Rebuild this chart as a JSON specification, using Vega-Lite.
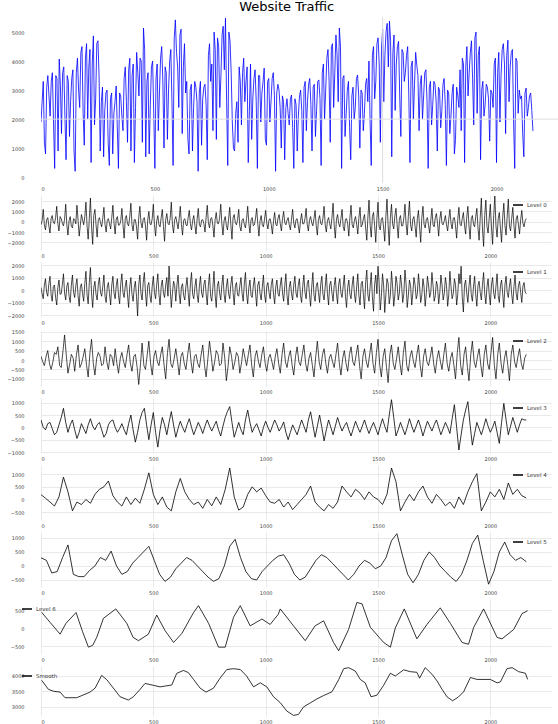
{
"$schema": "https://vega.github.io/schema/vega-lite/v6.json",
"padding": {"left": 5, "top": 0, "right": 0, "bottom": 0},
"title": {"text": "Website Traffic", "fontSize": 13, "font": "DejaVu Sans", "fontWeight": "normal", "color": "#000000", "anchor": "middle", "offset": 3, "dx": 5},
"spacing": 4,
"resolve": {"scale": {"color": "independent"}},
"config": {
  "font": "DejaVu Sans",
  "view": {"stroke": null},
  "axis": {"labelFontSize": 5, "labelColor": "#444444", "domain": false, "ticks": false, "grid": true, "gridColor": "#e3e3e3", "gridWidth": 0.8, "title": null, "labelOverlap": false},
  "axisX": {"labelPadding": 3},
  "axisY": {"labelPadding": 17, "minExtent": 36, "maxExtent": 36},
  "legend": {"orient": "top-right", "offset": 4, "symbolType": "stroke", "symbolStrokeWidth": 1.5, "symbolSize": 100, "labelFontSize": 5.5, "labelColor": "#333333", "padding": 0, "labelOffset": 3}
},
"datasets": {
"hline": [{"v": 2000}],
"vline": [{"t": 1500}],
"orig": [
{"t":0,"v":1900},{"t":10,"v":3300},{"t":20,"v":800},{"t":30,"v":3500},{"t":40,"v":2100},{"t":50,"v":3600},{"t":60,"v":300},{"t":70,"v":3400},{"t":80,"v":4070},{"t":90,"v":1500},
{"t":100,"v":3800},{"t":110,"v":600},{"t":120,"v":3300},{"t":130,"v":2600},{"t":140,"v":3700},{"t":150,"v":200},{"t":160,"v":4100},{"t":170,"v":2400},{"t":180,"v":4500},{"t":190,"v":1100},
{"t":200,"v":4600},{"t":210,"v":3800},{"t":220,"v":500},{"t":230,"v":4870},{"t":240,"v":2700},{"t":250,"v":4700},{"t":260,"v":900},{"t":270,"v":3100},{"t":280,"v":2300},{"t":290,"v":3000},
{"t":300,"v":400},{"t":310,"v":2900},{"t":320,"v":2200},{"t":330,"v":3140},{"t":340,"v":300},{"t":350,"v":2800},{"t":360,"v":1600},{"t":370,"v":3800},{"t":380,"v":1200},{"t":390,"v":4100},
{"t":400,"v":3500},{"t":410,"v":500},{"t":420,"v":4300},{"t":430,"v":2800},{"t":440,"v":4000},{"t":450,"v":5140},{"t":460,"v":700},{"t":470,"v":3600},{"t":480,"v":2500},{"t":490,"v":4000},
{"t":500,"v":300},{"t":510,"v":3900},{"t":520,"v":2900},{"t":530,"v":4500},{"t":540,"v":1000},{"t":550,"v":3600},{"t":560,"v":3000},{"t":570,"v":4400},{"t":580,"v":400},{"t":590,"v":5420},
{"t":600,"v":3800},{"t":610,"v":4900},{"t":620,"v":1500},{"t":630,"v":4600},{"t":640,"v":3300},{"t":650,"v":800},{"t":660,"v":3200},{"t":670,"v":2400},{"t":680,"v":3100},{"t":690,"v":200},
{"t":700,"v":3300},{"t":710,"v":2700},{"t":720,"v":3200},{"t":730,"v":600},{"t":740,"v":4600},{"t":750,"v":3900},{"t":760,"v":5000},{"t":770,"v":1300},{"t":780,"v":4500},{"t":790,"v":3500},
{"t":800,"v":5200},{"t":810,"v":5480},{"t":820,"v":400},{"t":830,"v":4700},{"t":840,"v":1900},{"t":850,"v":900},{"t":860,"v":2600},{"t":870,"v":3800},{"t":880,"v":1800},{"t":890,"v":4100},
{"t":900,"v":3300},{"t":910,"v":500},{"t":920,"v":3900},{"t":930,"v":2700},{"t":940,"v":3700},{"t":950,"v":300},{"t":960,"v":3500},{"t":970,"v":2900},{"t":980,"v":3760},{"t":990,"v":1100},
{"t":1000,"v":3400},{"t":1010,"v":2600},{"t":1020,"v":3600},{"t":1030,"v":200},{"t":1040,"v":3200},{"t":1050,"v":2400},{"t":1060,"v":2800},{"t":1070,"v":600},{"t":1080,"v":2700},{"t":1090,"v":1800},
{"t":1100,"v":2830},{"t":1110,"v":300},{"t":1120,"v":2500},{"t":1130,"v":2100},{"t":1140,"v":3000},{"t":1150,"v":500},{"t":1160,"v":3300},{"t":1170,"v":2600},{"t":1180,"v":3400},{"t":1190,"v":900},
{"t":1200,"v":3200},{"t":1210,"v":2300},{"t":1220,"v":3350},{"t":1230,"v":400},{"t":1240,"v":3900},{"t":1250,"v":3000},{"t":1260,"v":4400},{"t":1270,"v":1200},{"t":1280,"v":4600},{"t":1290,"v":3600},
{"t":1300,"v":4200},{"t":1310,"v":5140},{"t":1320,"v":300},{"t":1330,"v":3500},{"t":1340,"v":2200},{"t":1350,"v":3300},{"t":1360,"v":600},{"t":1370,"v":3100},{"t":1380,"v":2400},{"t":1390,"v":3520},
{"t":1400,"v":1000},{"t":1410,"v":2900},{"t":1420,"v":2200},{"t":1430,"v":3400},{"t":1440,"v":4000},{"t":1450,"v":400},{"t":1460,"v":4500},{"t":1470,"v":3300},{"t":1480,"v":4800},{"t":1490,"v":1200},
{"t":1500,"v":5100},{"t":1510,"v":4200},{"t":1520,"v":5300},{"t":1530,"v":5380},{"t":1540,"v":700},{"t":1550,"v":4900},{"t":1560,"v":3900},{"t":1570,"v":4680},{"t":1580,"v":1400},{"t":1590,"v":4300},
{"t":1600,"v":3600},{"t":1610,"v":4500},{"t":1620,"v":500},{"t":1630,"v":4000},{"t":1640,"v":3200},{"t":1650,"v":3860},{"t":1660,"v":1600},{"t":1670,"v":3500},{"t":1680,"v":2800},{"t":1690,"v":3700},
{"t":1700,"v":300},{"t":1710,"v":3300},{"t":1720,"v":2500},{"t":1730,"v":3200},{"t":1740,"v":900},{"t":1750,"v":3000},{"t":1760,"v":2300},{"t":1770,"v":3400},{"t":1780,"v":400},{"t":1790,"v":2900},
{"t":1800,"v":2100},{"t":1810,"v":3200},{"t":1820,"v":1300},{"t":1830,"v":2800},{"t":1840,"v":3700},{"t":1850,"v":4100},{"t":1860,"v":500},{"t":1870,"v":4500},{"t":1880,"v":3600},{"t":1890,"v":4700},
{"t":1900,"v":1800},{"t":1910,"v":5000},{"t":1920,"v":4200},{"t":1930,"v":600},{"t":1940,"v":3300},{"t":1950,"v":2500},{"t":1960,"v":3100},{"t":1970,"v":1240},{"t":1980,"v":2900},{"t":1990,"v":3900},
{"t":2000,"v":500},{"t":2010,"v":4300},{"t":2020,"v":3500},{"t":2030,"v":4600},{"t":2040,"v":1500},{"t":2050,"v":4720},{"t":2060,"v":3800},{"t":2070,"v":4400},{"t":2080,"v":300},{"t":2090,"v":4000},
{"t":2100,"v":3000},{"t":2110,"v":2800},{"t":2120,"v":700},{"t":2130,"v":3070},{"t":2140,"v":2400},{"t":2150,"v":2900},{"t":2160,"v":1590},
{"t":5,"v":2600},{"t":15,"v":1200},{"t":25,"v":3100},{"t":35,"v":2800},{"t":45,"v":3300},{"t":55,"v":1900},{"t":65,"v":3500},{"t":75,"v":900},{"t":85,"v":3200},{"t":95,"v":3600},
{"t":105,"v":2100},{"t":115,"v":3500},{"t":125,"v":1400},{"t":135,"v":3400},{"t":145,"v":900},{"t":155,"v":3600},{"t":165,"v":3000},{"t":175,"v":4300},{"t":185,"v":2200},{"t":195,"v":4100},
{"t":205,"v":2000},{"t":215,"v":4400},{"t":225,"v":3900},{"t":235,"v":1800},{"t":245,"v":4600},{"t":255,"v":3500},{"t":265,"v":2600},{"t":275,"v":700},{"t":285,"v":2900},{"t":295,"v":1200},
{"t":305,"v":2700},{"t":315,"v":800},{"t":325,"v":2600},{"t":335,"v":1700},{"t":345,"v":2900},{"t":355,"v":2100},{"t":365,"v":3400},{"t":375,"v":2600},{"t":385,"v":3700},{"t":395,"v":900},
{"t":405,"v":3900},{"t":415,"v":2400},{"t":425,"v":3600},{"t":435,"v":4100},{"t":445,"v":1200},{"t":455,"v":4400},{"t":465,"v":3300},{"t":475,"v":800},{"t":485,"v":3800},{"t":495,"v":2200},
{"t":505,"v":3400},{"t":515,"v":1600},{"t":525,"v":4100},{"t":535,"v":3300},{"t":545,"v":3800},{"t":555,"v":1300},{"t":565,"v":4000},{"t":575,"v":2600},{"t":585,"v":4800},{"t":595,"v":4300},
{"t":605,"v":2400},{"t":615,"v":5100},{"t":625,"v":3800},{"t":635,"v":2900},{"t":645,"v":1300},{"t":655,"v":3000},{"t":665,"v":900},{"t":675,"v":3300},{"t":685,"v":2600},{"t":695,"v":2900},
{"t":705,"v":1100},{"t":715,"v":3100},{"t":725,"v":2500},{"t":735,"v":4200},{"t":745,"v":3300},{"t":755,"v":1600},{"t":765,"v":4400},{"t":775,"v":4800},{"t":785,"v":2400},{"t":795,"v":4900},
{"t":805,"v":3700},{"t":815,"v":2600},{"t":825,"v":5000},{"t":835,"v":3600},{"t":845,"v":1000},{"t":855,"v":2200},{"t":865,"v":1200},{"t":875,"v":3300},{"t":885,"v":3600},{"t":895,"v":2600},
{"t":905,"v":3800},{"t":915,"v":2300},{"t":925,"v":1300},{"t":935,"v":3400},{"t":945,"v":2600},{"t":955,"v":3500},{"t":965,"v":1900},{"t":975,"v":3300},{"t":985,"v":1300},{"t":995,"v":3300},
{"t":1005,"v":1900},{"t":1015,"v":3400},{"t":1025,"v":2800},{"t":1035,"v":2900},{"t":1045,"v":3000},{"t":1055,"v":1000},{"t":1065,"v":2600},{"t":1075,"v":2400},{"t":1085,"v":2200},{"t":1095,"v":2700},
{"t":1105,"v":1700},{"t":1115,"v":2700},{"t":1125,"v":900},{"t":1135,"v":2800},{"t":1145,"v":2300},{"t":1155,"v":3100},{"t":1165,"v":1600},{"t":1175,"v":3200},{"t":1185,"v":2500},{"t":1195,"v":3100},
{"t":1205,"v":1400},{"t":1215,"v":3300},{"t":1225,"v":2700},{"t":1235,"v":3600},{"t":1245,"v":2000},{"t":1255,"v":4100},{"t":1265,"v":3300},{"t":1275,"v":4500},{"t":1285,"v":2400},{"t":1295,"v":4900},
{"t":1305,"v":2600},{"t":1315,"v":4500},{"t":1325,"v":3400},{"t":1335,"v":1400},{"t":1345,"v":3000},{"t":1355,"v":1700},{"t":1365,"v":2800},{"t":1375,"v":2000},{"t":1385,"v":3400},{"t":1395,"v":2800},
{"t":1405,"v":3000},{"t":1415,"v":1600},{"t":1425,"v":3200},{"t":1435,"v":2600},{"t":1445,"v":1900},{"t":1455,"v":4200},{"t":1465,"v":2700},{"t":1475,"v":4600},{"t":1485,"v":3900},{"t":1495,"v":4400},
{"t":1505,"v":2600},{"t":1515,"v":5000},{"t":1525,"v":3800},{"t":1535,"v":4700},{"t":1545,"v":4300},{"t":1555,"v":2300},{"t":1565,"v":4500},{"t":1575,"v":2800},{"t":1585,"v":4400},{"t":1595,"v":3300},
{"t":1605,"v":4200},{"t":1615,"v":2800},{"t":1625,"v":3800},{"t":1635,"v":2000},{"t":1645,"v":4300},{"t":1655,"v":3500},{"t":1665,"v":3200},{"t":1675,"v":2000},{"t":1685,"v":3600},{"t":1695,"v":2600},
{"t":1705,"v":3100},{"t":1715,"v":1800},{"t":1725,"v":3300},{"t":1735,"v":2600},{"t":1745,"v":3100},{"t":1755,"v":1700},{"t":1765,"v":3200},{"t":1775,"v":2500},{"t":1785,"v":3000},{"t":1795,"v":1500},
{"t":1805,"v":2900},{"t":1815,"v":800},{"t":1825,"v":3100},{"t":1835,"v":2400},{"t":1845,"v":1600},{"t":1855,"v":3900},{"t":1865,"v":3800},{"t":1875,"v":2800},{"t":1885,"v":4300},{"t":1895,"v":3400},
{"t":1905,"v":4800},{"t":1915,"v":2200},{"t":1925,"v":4500},{"t":1935,"v":3000},{"t":1945,"v":2100},{"t":1955,"v":3200},{"t":1965,"v":2700},{"t":1975,"v":3000},{"t":1985,"v":2400},{"t":1995,"v":4100},
{"t":2005,"v":3600},{"t":2015,"v":1900},{"t":2025,"v":4400},{"t":2035,"v":3900},{"t":2045,"v":4200},{"t":2055,"v":2600},{"t":2065,"v":4300},{"t":2075,"v":1900},{"t":2085,"v":4100},{"t":2095,"v":2200},
{"t":2105,"v":2700},{"t":2115,"v":1500},{"t":2125,"v":2900},{"t":2135,"v":2100},{"t":2145,"v":2800},{"t":2155,"v":2300}
],
"l0": [
{"t":0,"v":-300},{"t":10,"v":1200},{"t":20,"v":-800},{"t":30,"v":400},{"t":40,"v":-1100},{"t":50,"v":600},{"t":60,"v":-200},{"t":70,"v":1500},{"t":80,"v":-900},{"t":90,"v":300},
{"t":100,"v":-400},{"t":110,"v":1700},{"t":120,"v":-1300},{"t":130,"v":500},{"t":140,"v":-600},{"t":150,"v":200},{"t":160,"v":1600},{"t":170,"v":-1400},{"t":180,"v":700},{"t":190,"v":-300},
{"t":200,"v":1900},{"t":210,"v":-1700},{"t":220,"v":2300},{"t":230,"v":-2200},{"t":240,"v":1200},{"t":250,"v":-1500},{"t":260,"v":400},{"t":270,"v":-500},{"t":280,"v":1400},{"t":290,"v":-1000},
{"t":300,"v":300},{"t":310,"v":-700},{"t":320,"v":1600},{"t":330,"v":-1200},{"t":340,"v":500},{"t":350,"v":-300},{"t":360,"v":1300},{"t":370,"v":-1600},{"t":380,"v":600},{"t":390,"v":-400},
{"t":400,"v":1800},{"t":410,"v":-900},{"t":420,"v":200},{"t":430,"v":-1700},{"t":440,"v":1500},{"t":450,"v":-600},{"t":460,"v":400},{"t":470,"v":-1800},{"t":480,"v":1000},{"t":490,"v":-300},
{"t":500,"v":1700},{"t":510,"v":-1400},{"t":520,"v":600},{"t":530,"v":-500},{"t":540,"v":1200},{"t":550,"v":-1900},{"t":560,"v":800},{"t":570,"v":-300},{"t":580,"v":1900},{"t":590,"v":-1100},
{"t":600,"v":500},{"t":610,"v":-700},{"t":620,"v":1500},{"t":630,"v":-1300},{"t":640,"v":300},{"t":650,"v":-400},{"t":660,"v":1100},{"t":670,"v":-800},{"t":680,"v":600},{"t":690,"v":-1200},
{"t":700,"v":1300},{"t":710,"v":-500},{"t":720,"v":200},{"t":730,"v":-1000},{"t":740,"v":1600},{"t":750,"v":-600},{"t":760,"v":400},{"t":770,"v":-1500},{"t":780,"v":900},{"t":790,"v":-200},
{"t":800,"v":1700},{"t":810,"v":-1300},{"t":820,"v":500},{"t":830,"v":-800},{"t":840,"v":1400},{"t":850,"v":-1700},{"t":860,"v":700},{"t":870,"v":-300},{"t":880,"v":1200},{"t":890,"v":-900},
{"t":900,"v":300},{"t":910,"v":-600},{"t":920,"v":1500},{"t":930,"v":-1100},{"t":940,"v":400},{"t":950,"v":-300},{"t":960,"v":1300},{"t":970,"v":-1400},{"t":980,"v":600},{"t":990,"v":-500},
{"t":1000,"v":1100},{"t":1010,"v":-700},{"t":1020,"v":300},{"t":1030,"v":-1200},{"t":1040,"v":900},{"t":1050,"v":-400},{"t":1060,"v":700},{"t":1070,"v":-900},{"t":1080,"v":1000},{"t":1090,"v":-300},
{"t":1100,"v":400},{"t":1110,"v":-800},{"t":1120,"v":1200},{"t":1130,"v":-600},{"t":1140,"v":300},{"t":1150,"v":-1100},{"t":1160,"v":800},{"t":1170,"v":-200},{"t":1180,"v":1300},{"t":1190,"v":-900},
{"t":1200,"v":500},{"t":1210,"v":-400},{"t":1220,"v":1100},{"t":1230,"v":-1300},{"t":1240,"v":600},{"t":1250,"v":-300},{"t":1260,"v":1500},{"t":1270,"v":-1000},{"t":1280,"v":400},{"t":1290,"v":-700},
{"t":1300,"v":1800},{"t":1310,"v":-1600},{"t":1320,"v":700},{"t":1330,"v":-500},{"t":1340,"v":1200},{"t":1350,"v":-900},{"t":1360,"v":300},{"t":1370,"v":-1400},{"t":1380,"v":1600},{"t":1390,"v":-600},
{"t":1400,"v":500},{"t":1410,"v":-1200},{"t":1420,"v":1400},{"t":1430,"v":-300},{"t":1440,"v":700},{"t":1450,"v":-1800},{"t":1460,"v":2100},{"t":1470,"v":-1500},{"t":1480,"v":900},{"t":1490,"v":-2000},
{"t":1500,"v":1900},{"t":1510,"v":-800},{"t":1520,"v":400},{"t":1530,"v":-1900},{"t":1540,"v":2200},{"t":1550,"v":-2300},{"t":1560,"v":1700},{"t":1570,"v":-700},{"t":1580,"v":1300},{"t":1590,"v":-1600},
{"t":1600,"v":600},{"t":1610,"v":-400},{"t":1620,"v":1700},{"t":1630,"v":-1300},{"t":1640,"v":2000},{"t":1650,"v":-900},{"t":1660,"v":500},{"t":1670,"v":-1500},{"t":1680,"v":1100},{"t":1690,"v":-2000},
{"t":1700,"v":1500},{"t":1710,"v":-600},{"t":1720,"v":400},{"t":1730,"v":-1100},{"t":1740,"v":1300},{"t":1750,"v":-500},{"t":1760,"v":800},{"t":1770,"v":-1400},{"t":1780,"v":1000},{"t":1790,"v":-300},
{"t":1800,"v":600},{"t":1810,"v":-900},{"t":1820,"v":1200},{"t":1830,"v":-700},{"t":1840,"v":400},{"t":1850,"v":-1600},{"t":1860,"v":1400},{"t":1870,"v":-400},{"t":1880,"v":900},{"t":1890,"v":-1200},
{"t":1900,"v":1500},{"t":1910,"v":-1700},{"t":1920,"v":600},{"t":1930,"v":-500},{"t":1940,"v":1300},{"t":1950,"v":-1800},{"t":1960,"v":2300},{"t":1970,"v":-2400},{"t":1980,"v":2100},{"t":1990,"v":-1100},
{"t":2000,"v":1700},{"t":2010,"v":-2200},{"t":2020,"v":2500},{"t":2030,"v":-1500},{"t":2040,"v":900},{"t":2050,"v":-2000},{"t":2060,"v":1800},{"t":2070,"v":-1300},{"t":2080,"v":2200},{"t":2090,"v":-900},
{"t":2100,"v":1400},{"t":2110,"v":-1600},{"t":2120,"v":600},{"t":2130,"v":-1200},{"t":2140,"v":1100},{"t":2150,"v":-500},{"t":2160,"v":300},
{"t":5,"v":100},{"t":15,"v":-300},{"t":25,"v":200},{"t":35,"v":-400},{"t":45,"v":300},{"t":55,"v":-100},{"t":65,"v":400},{"t":75,"v":-200},{"t":85,"v":500},{"t":95,"v":-150},
{"t":105,"v":250},{"t":115,"v":-300},{"t":125,"v":100},{"t":135,"v":-450},{"t":145,"v":300},{"t":155,"v":-200},{"t":165,"v":150},{"t":175,"v":-350},{"t":185,"v":200},{"t":195,"v":500},
{"t":205,"v":-400},{"t":215,"v":300},{"t":225,"v":-500},{"t":235,"v":600},{"t":245,"v":-300},{"t":255,"v":200},{"t":265,"v":-100},{"t":275,"v":350},{"t":285,"v":-250},{"t":295,"v":150},
{"t":305,"v":-200},{"t":315,"v":400},{"t":325,"v":-150},{"t":335,"v":250},{"t":345,"v":-350},{"t":355,"v":100},{"t":365,"v":-300},{"t":375,"v":300},{"t":385,"v":-200},{"t":395,"v":450},
{"t":405,"v":-300},{"t":415,"v":200},{"t":425,"v":-500},{"t":435,"v":350},{"t":445,"v":-100},{"t":455,"v":250},{"t":465,"v":-400},{"t":475,"v":150},{"t":485,"v":-200},{"t":495,"v":300},
{"t":505,"v":-250},{"t":515,"v":100},{"t":525,"v":-300},{"t":535,"v":400},{"t":545,"v":-450},{"t":555,"v":200},{"t":565,"v":-150},{"t":575,"v":350},{"t":585,"v":-300},{"t":595,"v":200},
{"t":605,"v":-100},{"t":615,"v":300},{"t":625,"v":-250},{"t":635,"v":150},{"t":645,"v":-300},{"t":655,"v":400},{"t":665,"v":-200},{"t":675,"v":100},{"t":685,"v":-350},{"t":695,"v":250},
{"t":705,"v":-300},{"t":715,"v":150},{"t":725,"v":-200},{"t":735,"v":450},{"t":745,"v":-100},{"t":755,"v":300},{"t":765,"v":-400},{"t":775,"v":200},{"t":785,"v":-150},{"t":795,"v":350},
{"t":805,"v":-200},{"t":815,"v":100},{"t":825,"v":-350},{"t":835,"v":250},{"t":845,"v":-300},{"t":855,"v":400},{"t":865,"v":-100},{"t":875,"v":200},{"t":885,"v":-450},{"t":895,"v":150},
{"t":905,"v":-250},{"t":915,"v":300},{"t":925,"v":-150},{"t":935,"v":200},{"t":945,"v":-400},{"t":955,"v":350},{"t":965,"v":-200},{"t":975,"v":100},{"t":985,"v":-300},{"t":995,"v":250},
{"t":1005,"v":-150},{"t":1015,"v":200},{"t":1025,"v":-300},{"t":1035,"v":100},{"t":1045,"v":-250},{"t":1055,"v":350},{"t":1065,"v":-200},{"t":1075,"v":300},{"t":1085,"v":-100},{"t":1095,"v":150},
{"t":1105,"v":-300},{"t":1115,"v":250},{"t":1125,"v":-150},{"t":1135,"v":200},{"t":1145,"v":-350},{"t":1155,"v":100},{"t":1165,"v":-200},{"t":1175,"v":300},{"t":1185,"v":-250},{"t":1195,"v":150},
{"t":1205,"v":-100},{"t":1215,"v":300},{"t":1225,"v":-400},{"t":1235,"v":200},{"t":1245,"v":-150},{"t":1255,"v":350},{"t":1265,"v":-300},{"t":1275,"v":100},{"t":1285,"v":-200},{"t":1295,"v":400},
{"t":1305,"v":-350},{"t":1315,"v":200},{"t":1325,"v":-150},{"t":1335,"v":300},{"t":1345,"v":-450},{"t":1355,"v":250},{"t":1365,"v":-200},{"t":1375,"v":400},{"t":1385,"v":-300},{"t":1395,"v":150},
{"t":1405,"v":-250},{"t":1415,"v":400},{"t":1425,"v":-500},{"t":1435,"v":300},{"t":1445,"v":-600},{"t":1455,"v":450},{"t":1465,"v":-350},{"t":1475,"v":500},{"t":1485,"v":-400},{"t":1495,"v":300},
{"t":1505,"v":-450},{"t":1515,"v":300},{"t":1525,"v":-600},{"t":1535,"v":500},{"t":1545,"v":-350},{"t":1555,"v":400},{"t":1565,"v":-200},{"t":1575,"v":550},{"t":1585,"v":-300},{"t":1595,"v":250},
{"t":1605,"v":-400},{"t":1615,"v":350},{"t":1625,"v":-200},{"t":1635,"v":500},{"t":1645,"v":-300},{"t":1655,"v":250},{"t":1665,"v":-450},{"t":1675,"v":300},{"t":1685,"v":-500},{"t":1695,"v":400},
{"t":1705,"v":-250},{"t":1715,"v":200},{"t":1725,"v":-350},{"t":1735,"v":150},{"t":1745,"v":-300},{"t":1755,"v":400},{"t":1765,"v":-150},{"t":1775,"v":250},{"t":1785,"v":-200},{"t":1795,"v":100},
{"t":1805,"v":-300},{"t":1815,"v":250},{"t":1825,"v":-150},{"t":1835,"v":350},{"t":1845,"v":-400},{"t":1855,"v":200},{"t":1865,"v":-250},{"t":1875,"v":300},{"t":1885,"v":-350},{"t":1895,"v":450},
{"t":1905,"v":-400},{"t":1915,"v":300},{"t":1925,"v":-250},{"t":1935,"v":500},{"t":1945,"v":-600},{"t":1955,"v":400},{"t":1965,"v":-700},{"t":1975,"v":600},{"t":1985,"v":-450},{"t":1995,"v":350},
{"t":2005,"v":-500},{"t":2015,"v":600},{"t":2025,"v":-400},{"t":2035,"v":300},{"t":2045,"v":-650},{"t":2055,"v":450},{"t":2065,"v":-350},{"t":2075,"v":550},{"t":2085,"v":-400},{"t":2095,"v":300},
{"t":2105,"v":-350},{"t":2115,"v":250},{"t":2125,"v":-300},{"t":2135,"v":200},{"t":2145,"v":-150},{"t":2155,"v":100}
],
"l1": [
{"t":0,"v":200},{"t":10,"v":-700},{"t":20,"v":900},{"t":30,"v":-500},{"t":40,"v":1100},{"t":50,"v":-900},{"t":60,"v":400},{"t":70,"v":-1200},{"t":80,"v":800},{"t":90,"v":-300},
{"t":100,"v":1300},{"t":110,"v":-800},{"t":120,"v":600},{"t":130,"v":-1000},{"t":140,"v":1200},{"t":150,"v":-600},{"t":160,"v":900},{"t":170,"v":-1300},{"t":180,"v":500},{"t":190,"v":-900},
{"t":200,"v":1500},{"t":210,"v":-1100},{"t":220,"v":1800},{"t":230,"v":-1400},{"t":240,"v":700},{"t":250,"v":-800},{"t":260,"v":1000},{"t":270,"v":-500},{"t":280,"v":1200},{"t":290,"v":-1000},
{"t":300,"v":600},{"t":310,"v":-1200},{"t":320,"v":1100},{"t":330,"v":-700},{"t":340,"v":900},{"t":350,"v":-1100},{"t":360,"v":1300},{"t":370,"v":-600},{"t":380,"v":800},{"t":390,"v":-1400},
{"t":400,"v":1000},{"t":410,"v":-900},{"t":420,"v":700},{"t":430,"v":-2080},{"t":440,"v":1200},{"t":450,"v":-800},{"t":460,"v":1400},{"t":470,"v":-1300},{"t":480,"v":600},{"t":490,"v":-1000},
{"t":500,"v":1100},{"t":510,"v":-700},{"t":520,"v":1300},{"t":530,"v":-1200},{"t":540,"v":800},{"t":550,"v":-600},{"t":560,"v":1000},{"t":570,"v":1920},{"t":580,"v":-1400},{"t":590,"v":700},
{"t":600,"v":-900},{"t":610,"v":1200},{"t":620,"v":-1100},{"t":630,"v":500},{"t":640,"v":-800},{"t":650,"v":1000},{"t":660,"v":-1300},{"t":670,"v":1400},{"t":680,"v":-700},{"t":690,"v":900},
{"t":700,"v":-1000},{"t":710,"v":1100},{"t":720,"v":-600},{"t":730,"v":800},{"t":740,"v":-1200},{"t":750,"v":1300},{"t":760,"v":-900},{"t":770,"v":1500},{"t":780,"v":-1400},{"t":790,"v":700},
{"t":800,"v":-800},{"t":810,"v":1200},{"t":820,"v":-1000},{"t":830,"v":900},{"t":840,"v":-700},{"t":850,"v":1100},{"t":860,"v":-1200},{"t":870,"v":600},{"t":880,"v":-500},{"t":890,"v":1000},
{"t":900,"v":-900},{"t":910,"v":1400},{"t":920,"v":-1100},{"t":930,"v":800},{"t":940,"v":-600},{"t":950,"v":1000},{"t":960,"v":-1300},{"t":970,"v":700},{"t":980,"v":-800},{"t":990,"v":1200},
{"t":1000,"v":-1000},{"t":1010,"v":600},{"t":1020,"v":-700},{"t":1030,"v":900},{"t":1040,"v":-1100},{"t":1050,"v":800},{"t":1060,"v":-500},{"t":1070,"v":1000},{"t":1080,"v":-900},{"t":1090,"v":1300},
{"t":1100,"v":-1200},{"t":1110,"v":700},{"t":1120,"v":-800},{"t":1130,"v":1100},{"t":1140,"v":-600},{"t":1150,"v":900},{"t":1160,"v":-1000},{"t":1170,"v":1200},{"t":1180,"v":-700},{"t":1190,"v":800},
{"t":1200,"v":-1300},{"t":1210,"v":1400},{"t":1220,"v":-900},{"t":1230,"v":600},{"t":1240,"v":-1000},{"t":1250,"v":1100},{"t":1260,"v":-800},{"t":1270,"v":1300},{"t":1280,"v":-1200},{"t":1290,"v":700},
{"t":1300,"v":-900},{"t":1310,"v":1000},{"t":1320,"v":-1100},{"t":1330,"v":900},{"t":1340,"v":-600},{"t":1350,"v":1200},{"t":1360,"v":-1400},{"t":1370,"v":800},{"t":1380,"v":-700},{"t":1390,"v":1100},
{"t":1400,"v":-1000},{"t":1410,"v":1300},{"t":1420,"v":-1200},{"t":1430,"v":700},{"t":1440,"v":-1500},{"t":1450,"v":1600},{"t":1460,"v":-900},{"t":1470,"v":1400},{"t":1480,"v":-1700},{"t":1490,"v":1200},
{"t":1500,"v":1900},{"t":1510,"v":-1600},{"t":1520,"v":1300},{"t":1530,"v":-1800},{"t":1540,"v":900},{"t":1550,"v":-1100},{"t":1560,"v":1500},{"t":1570,"v":-1300},{"t":1580,"v":1100},{"t":1590,"v":-800},
{"t":1600,"v":1200},{"t":1610,"v":-1000},{"t":1620,"v":1600},{"t":1630,"v":-1400},{"t":1640,"v":800},{"t":1650,"v":-1200},{"t":1660,"v":1000},{"t":1670,"v":-700},{"t":1680,"v":1300},{"t":1690,"v":-1000},
{"t":1700,"v":900},{"t":1710,"v":-1300},{"t":1720,"v":1100},{"t":1730,"v":-600},{"t":1740,"v":1400},{"t":1750,"v":-900},{"t":1760,"v":700},{"t":1770,"v":-1100},{"t":1780,"v":1200},{"t":1790,"v":-800},
{"t":1800,"v":1000},{"t":1810,"v":-1300},{"t":1820,"v":1500},{"t":1830,"v":-700},{"t":1840,"v":900},{"t":1850,"v":-1200},{"t":1860,"v":1300},{"t":1870,"v":1900},{"t":1880,"v":-1760},{"t":1890,"v":800},
{"t":1900,"v":-1000},{"t":1910,"v":1200},{"t":1920,"v":-900},{"t":1930,"v":1100},{"t":1940,"v":-1300},{"t":1950,"v":700},{"t":1960,"v":-800},{"t":1970,"v":1400},{"t":1980,"v":-1100},{"t":1990,"v":900},
{"t":2000,"v":-1200},{"t":2010,"v":1000},{"t":2020,"v":-700},{"t":2030,"v":1300},{"t":2040,"v":-1000},{"t":2050,"v":800},{"t":2060,"v":-1400},{"t":2070,"v":1100},{"t":2080,"v":-600},{"t":2090,"v":900},
{"t":2100,"v":-1100},{"t":2110,"v":1200},{"t":2120,"v":-800},{"t":2130,"v":700},{"t":2140,"v":-1000},{"t":2150,"v":600},{"t":2160,"v":-300},
{"t":5,"v":-300},{"t":15,"v":400},{"t":25,"v":-200},{"t":35,"v":500},{"t":45,"v":-400},{"t":55,"v":300},{"t":65,"v":-600},{"t":75,"v":200},{"t":85,"v":-350},{"t":95,"v":450},
{"t":105,"v":-250},{"t":115,"v":300},{"t":125,"v":-500},{"t":135,"v":400},{"t":145,"v":-200},{"t":155,"v":350},{"t":165,"v":-450},{"t":175,"v":250},{"t":185,"v":-300},{"t":195,"v":500},
{"t":205,"v":-400},{"t":215,"v":600},{"t":225,"v":-300},{"t":235,"v":200},{"t":245,"v":-350},{"t":255,"v":450},{"t":265,"v":-200},{"t":275,"v":300},{"t":285,"v":-500},{"t":295,"v":250},
{"t":305,"v":-300},{"t":315,"v":400},{"t":325,"v":-250},{"t":335,"v":350},{"t":345,"v":-450},{"t":355,"v":500},{"t":365,"v":-200},{"t":375,"v":300},{"t":385,"v":-400},{"t":395,"v":250},
{"t":405,"v":-350},{"t":415,"v":200},{"t":425,"v":-500},{"t":435,"v":400},{"t":445,"v":-300},{"t":455,"v":600},{"t":465,"v":-250},{"t":475,"v":350},{"t":485,"v":-450},{"t":495,"v":300},
{"t":505,"v":-200},{"t":515,"v":450},{"t":525,"v":-350},{"t":535,"v":300},{"t":545,"v":-250},{"t":555,"v":400},{"t":565,"v":-500},{"t":575,"v":200},{"t":585,"v":-300},{"t":595,"v":350},
{"t":605,"v":400},{"t":615,"v":-300},{"t":625,"v":250},{"t":635,"v":-450},{"t":645,"v":300},{"t":655,"v":-200},{"t":665,"v":500},{"t":675,"v":-350},{"t":685,"v":250},{"t":695,"v":-400},
{"t":705,"v":300},{"t":715,"v":-250},{"t":725,"v":450},{"t":735,"v":-300},{"t":745,"v":350},{"t":755,"v":-500},{"t":765,"v":200},{"t":775,"v":-400},{"t":785,"v":300},{"t":795,"v":-250},
{"t":805,"v":400},{"t":815,"v":-350},{"t":825,"v":250},{"t":835,"v":-300},{"t":845,"v":450},{"t":855,"v":-200},{"t":865,"v":300},{"t":875,"v":-400},{"t":885,"v":350},{"t":895,"v":-250},
{"t":905,"v":500},{"t":915,"v":-300},{"t":925,"v":200},{"t":935,"v":-450},{"t":945,"v":350},{"t":955,"v":-250},{"t":965,"v":400},{"t":975,"v":-300},{"t":985,"v":250},{"t":995,"v":-350},
{"t":1005,"v":300},{"t":1015,"v":-200},{"t":1025,"v":450},{"t":1035,"v":-350},{"t":1045,"v":250},{"t":1055,"v":-300},{"t":1065,"v":400},{"t":1075,"v":-250},{"t":1085,"v":350},{"t":1095,"v":-450},
{"t":1105,"v":200},{"t":1115,"v":-300},{"t":1125,"v":400},{"t":1135,"v":-250},{"t":1145,"v":350},{"t":1155,"v":-450},{"t":1165,"v":300},{"t":1175,"v":-200},{"t":1185,"v":500},{"t":1195,"v":-350},
{"t":1205,"v":250},{"t":1215,"v":-400},{"t":1225,"v":300},{"t":1235,"v":-200},{"t":1245,"v":450},{"t":1255,"v":-350},{"t":1265,"v":250},{"t":1275,"v":-300},{"t":1285,"v":400},{"t":1295,"v":-250},
{"t":1305,"v":350},{"t":1315,"v":-300},{"t":1325,"v":450},{"t":1335,"v":-250},{"t":1345,"v":300},{"t":1355,"v":-500},{"t":1365,"v":200},{"t":1375,"v":-350},{"t":1385,"v":400},{"t":1395,"v":-300},
{"t":1405,"v":250},{"t":1415,"v":-450},{"t":1425,"v":500},{"t":1435,"v":-350},{"t":1445,"v":600},{"t":1455,"v":-400},{"t":1465,"v":300},{"t":1475,"v":-550},{"t":1485,"v":450},{"t":1495,"v":-300},
{"t":1505,"v":600},{"t":1515,"v":-500},{"t":1525,"v":400},{"t":1535,"v":-350},{"t":1545,"v":550},{"t":1555,"v":-450},{"t":1565,"v":300},{"t":1575,"v":-400},{"t":1585,"v":500},{"t":1595,"v":-250},
{"t":1605,"v":400},{"t":1615,"v":-300},{"t":1625,"v":500},{"t":1635,"v":-450},{"t":1645,"v":350},{"t":1655,"v":-250},{"t":1665,"v":450},{"t":1675,"v":-350},{"t":1685,"v":300},{"t":1695,"v":-400},
{"t":1705,"v":250},{"t":1715,"v":-300},{"t":1725,"v":400},{"t":1735,"v":-200},{"t":1745,"v":350},{"t":1755,"v":-450},{"t":1765,"v":300},{"t":1775,"v":-250},{"t":1785,"v":400},{"t":1795,"v":-300},
{"t":1805,"v":350},{"t":1815,"v":-400},{"t":1825,"v":250},{"t":1835,"v":-300},{"t":1845,"v":450},{"t":1855,"v":-350},{"t":1865,"v":500},{"t":1875,"v":-600},{"t":1885,"v":400},{"t":1895,"v":-250},
{"t":1905,"v":300},{"t":1915,"v":-350},{"t":1925,"v":250},{"t":1935,"v":-400},{"t":1945,"v":350},{"t":1955,"v":-200},{"t":1965,"v":450},{"t":1975,"v":-300},{"t":1985,"v":250},{"t":1995,"v":-350},
{"t":2005,"v":400},{"t":2015,"v":-250},{"t":2025,"v":300},{"t":2035,"v":-450},{"t":2045,"v":350},{"t":2055,"v":-300},{"t":2065,"v":400},{"t":2075,"v":-200},{"t":2085,"v":300},{"t":2095,"v":-350},
{"t":2105,"v":250},{"t":2115,"v":-300},{"t":2125,"v":350},{"t":2135,"v":-200},{"t":2145,"v":300},{"t":2155,"v":-150}
],
"l2": [
{"t":0,"v":200},{"t":15,"v":-300},{"t":30,"v":500},{"t":45,"v":-500},{"t":60,"v":400},{"t":75,"v":700},{"t":90,"v":-400},{"t":105,"v":1330},{"t":120,"v":-700},{"t":135,"v":300},
{"t":150,"v":-600},{"t":165,"v":800},{"t":180,"v":-200},{"t":195,"v":600},{"t":210,"v":-900},{"t":225,"v":1100},{"t":240,"v":-800},{"t":255,"v":400},{"t":270,"v":-300},{"t":285,"v":700},
{"t":300,"v":-500},{"t":315,"v":200},{"t":330,"v":600},{"t":345,"v":-700},{"t":360,"v":400},{"t":375,"v":-400},{"t":390,"v":800},{"t":405,"v":-600},{"t":420,"v":300},{"t":435,"v":-1300},
{"t":450,"v":900},{"t":465,"v":-500},{"t":480,"v":1000},{"t":495,"v":-800},{"t":510,"v":500},{"t":525,"v":-300},{"t":540,"v":700},{"t":555,"v":-1000},{"t":570,"v":1100},{"t":585,"v":-400},
{"t":600,"v":600},{"t":615,"v":-800},{"t":630,"v":400},{"t":645,"v":-500},{"t":660,"v":900},{"t":675,"v":-700},{"t":690,"v":300},{"t":705,"v":-400},{"t":720,"v":800},{"t":735,"v":-900},
{"t":750,"v":1000},{"t":765,"v":-600},{"t":780,"v":500},{"t":795,"v":-300},{"t":810,"v":900},{"t":825,"v":-1100},{"t":840,"v":700},{"t":855,"v":-500},{"t":870,"v":400},{"t":885,"v":-700},
{"t":900,"v":600},{"t":915,"v":-300},{"t":930,"v":800},{"t":945,"v":-900},{"t":960,"v":500},{"t":975,"v":-400},{"t":990,"v":700},{"t":1005,"v":-600},{"t":1020,"v":300},{"t":1035,"v":-500},
{"t":1050,"v":600},{"t":1065,"v":-700},{"t":1080,"v":900},{"t":1095,"v":-400},{"t":1110,"v":500},{"t":1125,"v":-800},{"t":1140,"v":700},{"t":1155,"v":-300},{"t":1170,"v":800},{"t":1185,"v":-600},
{"t":1200,"v":400},{"t":1215,"v":-900},{"t":1230,"v":1000},{"t":1245,"v":-500},{"t":1260,"v":600},{"t":1275,"v":-700},{"t":1290,"v":300},{"t":1305,"v":-400},{"t":1320,"v":900},{"t":1335,"v":-800},
{"t":1350,"v":500},{"t":1365,"v":-600},{"t":1380,"v":700},{"t":1395,"v":-300},{"t":1410,"v":800},{"t":1425,"v":-1000},{"t":1440,"v":600},{"t":1455,"v":-400},{"t":1470,"v":900},{"t":1485,"v":-700},
{"t":1500,"v":1100},{"t":1515,"v":-900},{"t":1530,"v":600},{"t":1545,"v":-1200},{"t":1560,"v":800},{"t":1575,"v":-500},{"t":1590,"v":700},{"t":1605,"v":-800},{"t":1620,"v":1000},{"t":1635,"v":-600},
{"t":1650,"v":500},{"t":1665,"v":-400},{"t":1680,"v":800},{"t":1695,"v":-900},{"t":1710,"v":600},{"t":1725,"v":-300},{"t":1740,"v":700},{"t":1755,"v":-700},{"t":1770,"v":500},{"t":1785,"v":-500},
{"t":1800,"v":900},{"t":1815,"v":-600},{"t":1830,"v":400},{"t":1845,"v":-1000},{"t":1860,"v":1200},{"t":1875,"v":-800},{"t":1890,"v":700},{"t":1905,"v":-1100},{"t":1920,"v":1000},{"t":1935,"v":-400},
{"t":1950,"v":600},{"t":1965,"v":-900},{"t":1980,"v":800},{"t":1995,"v":-500},{"t":2010,"v":1200},{"t":2025,"v":-1000},{"t":2040,"v":900},{"t":2055,"v":-700},{"t":2070,"v":500},{"t":2085,"v":-1100},
{"t":2100,"v":800},{"t":2115,"v":-400},{"t":2130,"v":600},{"t":2145,"v":-500},{"t":2160,"v":300},
{"t":8,"v":-100},{"t":23,"v":200},{"t":38,"v":-200},{"t":53,"v":-100},{"t":68,"v":300},{"t":83,"v":-300},{"t":98,"v":500},{"t":113,"v":200},{"t":128,"v":-200},{"t":143,"v":100},
{"t":158,"v":300},{"t":173,"v":-400},{"t":188,"v":200},{"t":203,"v":-300},{"t":218,"v":400},{"t":233,"v":-200},{"t":248,"v":100},{"t":263,"v":200},{"t":278,"v":-200},{"t":293,"v":-100},
{"t":308,"v":300},{"t":323,"v":-300},{"t":338,"v":-200},{"t":353,"v":100},{"t":368,"v":-100},{"t":383,"v":300},{"t":398,"v":-200},{"t":413,"v":200},{"t":428,"v":-400},{"t":443,"v":-200},
{"t":458,"v":-300},{"t":473,"v":300},{"t":488,"v":-200},{"t":503,"v":200},{"t":518,"v":-100},{"t":533,"v":300},{"t":548,"v":-300},{"t":563,"v":400},{"t":578,"v":-200},{"t":593,"v":100},
{"t":608,"v":-100},{"t":623,"v":200},{"t":638,"v":-200},{"t":653,"v":300},{"t":668,"v":-100},{"t":683,"v":200},{"t":698,"v":-200},{"t":713,"v":300},{"t":728,"v":-300},{"t":743,"v":100},
{"t":758,"v":200},{"t":773,"v":-100},{"t":788,"v":300},{"t":803,"v":-200},{"t":818,"v":100},{"t":833,"v":-300},{"t":848,"v":200},{"t":863,"v":-100},{"t":878,"v":200},{"t":893,"v":-100},
{"t":908,"v":100},{"t":923,"v":300},{"t":938,"v":-300},{"t":953,"v":200},{"t":968,"v":-100},{"t":983,"v":300},{"t":998,"v":-200},{"t":1013,"v":100},{"t":1028,"v":-100},{"t":1043,"v":200},
{"t":1058,"v":-200},{"t":1073,"v":300},{"t":1088,"v":-100},{"t":1103,"v":200},{"t":1118,"v":-300},{"t":1133,"v":200},{"t":1148,"v":-100},{"t":1163,"v":300},{"t":1178,"v":-200},{"t":1193,"v":100},
{"t":1208,"v":-300},{"t":1223,"v":200},{"t":1238,"v":-100},{"t":1253,"v":300},{"t":1268,"v":-200},{"t":1283,"v":100},{"t":1298,"v":-100},{"t":1313,"v":300},{"t":1328,"v":-200},{"t":1343,"v":100},
{"t":1358,"v":-200},{"t":1373,"v":300},{"t":1388,"v":-100},{"t":1403,"v":300},{"t":1418,"v":-300},{"t":1433,"v":200},{"t":1448,"v":-100},{"t":1463,"v":300},{"t":1478,"v":-200},{"t":1493,"v":400},
{"t":1508,"v":-300},{"t":1523,"v":200},{"t":1538,"v":-400},{"t":1553,"v":300},{"t":1568,"v":-200},{"t":1583,"v":100},{"t":1598,"v":-200},{"t":1613,"v":400},{"t":1628,"v":-300},{"t":1643,"v":200},
{"t":1658,"v":-100},{"t":1673,"v":300},{"t":1688,"v":-300},{"t":1703,"v":200},{"t":1718,"v":-100},{"t":1733,"v":200},{"t":1748,"v":-200},{"t":1763,"v":100},{"t":1778,"v":-100},{"t":1793,"v":300},
{"t":1808,"v":-200},{"t":1823,"v":100},{"t":1838,"v":-300},{"t":1853,"v":400},{"t":1868,"v":-300},{"t":1883,"v":300},{"t":1898,"v":-400},{"t":1913,"v":300},{"t":1928,"v":-100},{"t":1943,"v":200},
{"t":1958,"v":-300},{"t":1973,"v":300},{"t":1988,"v":-200},{"t":2003,"v":400},{"t":2018,"v":-300},{"t":2033,"v":300},{"t":2048,"v":-200},{"t":2063,"v":100},{"t":2078,"v":-300},{"t":2093,"v":300},
{"t":2108,"v":-100},{"t":2123,"v":200},{"t":2138,"v":-200},{"t":2153,"v":100}
],
"l3": [
{"t":0,"v":300},{"t":20,"v":-100},{"t":40,"v":200},{"t":60,"v":-300},{"t":80,"v":100},{"t":100,"v":770},{"t":120,"v":-200},{"t":140,"v":300},{"t":160,"v":-450},{"t":180,"v":150},
{"t":200,"v":-250},{"t":220,"v":350},{"t":240,"v":-100},{"t":260,"v":200},{"t":280,"v":-400},{"t":300,"v":100},{"t":320,"v":300},{"t":340,"v":-200},{"t":360,"v":150},{"t":380,"v":-300},
{"t":400,"v":500},{"t":420,"v":-600},{"t":440,"v":300},{"t":460,"v":770},{"t":480,"v":-500},{"t":500,"v":600},{"t":520,"v":-800},{"t":540,"v":400},{"t":560,"v":-300},{"t":580,"v":640},
{"t":600,"v":-400},{"t":620,"v":250},{"t":640,"v":-200},{"t":660,"v":350},{"t":680,"v":-300},{"t":700,"v":200},{"t":720,"v":-250},{"t":740,"v":300},{"t":760,"v":-150},{"t":780,"v":250},
{"t":800,"v":-350},{"t":820,"v":400},{"t":840,"v":840},{"t":860,"v":-400},{"t":880,"v":200},{"t":900,"v":-300},{"t":920,"v":700},{"t":940,"v":-200},{"t":960,"v":150},{"t":980,"v":-350},
{"t":1000,"v":250},{"t":1020,"v":-200},{"t":1040,"v":300},{"t":1060,"v":-150},{"t":1080,"v":220},{"t":1100,"v":-500},{"t":1120,"v":100},{"t":1140,"v":-300},{"t":1160,"v":300},{"t":1180,"v":-200},
{"t":1200,"v":630},{"t":1220,"v":-400},{"t":1240,"v":500},{"t":1260,"v":-550},{"t":1280,"v":300},{"t":1300,"v":-300},{"t":1320,"v":400},{"t":1340,"v":-150},{"t":1360,"v":200},{"t":1380,"v":-350},
{"t":1400,"v":250},{"t":1420,"v":-200},{"t":1440,"v":300},{"t":1460,"v":-250},{"t":1480,"v":200},{"t":1500,"v":-300},{"t":1520,"v":350},{"t":1540,"v":-200},{"t":1560,"v":1120},{"t":1580,"v":-350},
{"t":1600,"v":200},{"t":1620,"v":-300},{"t":1640,"v":350},{"t":1660,"v":-200},{"t":1680,"v":300},{"t":1700,"v":-350},{"t":1720,"v":250},{"t":1740,"v":-150},{"t":1760,"v":300},{"t":1780,"v":-300},
{"t":1800,"v":200},{"t":1820,"v":-250},{"t":1840,"v":920},{"t":1860,"v":-920},{"t":1880,"v":300},{"t":1900,"v":1040},{"t":1920,"v":-720},{"t":1940,"v":200},{"t":1960,"v":-300},{"t":1980,"v":350},
{"t":2000,"v":-200},{"t":2020,"v":250},{"t":2040,"v":-650},{"t":2060,"v":970},{"t":2080,"v":-300},{"t":2100,"v":400},{"t":2120,"v":-200},{"t":2140,"v":350},{"t":2160,"v":300},
{"t":10,"v":0},{"t":30,"v":150},{"t":50,"v":-50},{"t":70,"v":-200},{"t":90,"v":400},{"t":110,"v":200},{"t":130,"v":100},{"t":150,"v":-100},{"t":170,"v":-200},{"t":190,"v":-50},
{"t":210,"v":100},{"t":230,"v":50},{"t":250,"v":100},{"t":270,"v":-100},{"t":290,"v":-250},{"t":310,"v":250},{"t":330,"v":0},{"t":350,"v":-50},{"t":370,"v":-100},{"t":390,"v":150},
{"t":410,"v":-100},{"t":430,"v":-200},{"t":450,"v":600},{"t":470,"v":100},{"t":490,"v":100},{"t":510,"v":-200},{"t":530,"v":-100},{"t":550,"v":100},{"t":570,"v":200},{"t":590,"v":100},
{"t":610,"v":-50},{"t":630,"v":0},{"t":650,"v":100},{"t":670,"v":0},{"t":690,"v":-50},{"t":710,"v":0},{"t":730,"v":50},{"t":750,"v":50},{"t":770,"v":50},{"t":790,"v":-100},
{"t":810,"v":50},{"t":830,"v":650},{"t":850,"v":200},{"t":870,"v":-100},{"t":890,"v":-100},{"t":910,"v":300},{"t":930,"v":200},{"t":950,"v":0},{"t":970,"v":-100},{"t":990,"v":0},
{"t":1010,"v":0},{"t":1030,"v":50},{"t":1050,"v":100},{"t":1070,"v":0},{"t":1090,"v":-200},{"t":1110,"v":-200},{"t":1130,"v":-100},{"t":1150,"v":0},{"t":1170,"v":50},{"t":1190,"v":300},
{"t":1210,"v":100},{"t":1230,"v":50},{"t":1250,"v":0},{"t":1270,"v":-100},{"t":1290,"v":0},{"t":1310,"v":50},{"t":1330,"v":100},{"t":1350,"v":50},{"t":1370,"v":-100},{"t":1390,"v":-50},
{"t":1410,"v":0},{"t":1430,"v":50},{"t":1450,"v":0},{"t":1470,"v":0},{"t":1490,"v":-50},{"t":1510,"v":50},{"t":1530,"v":50},{"t":1550,"v":500},{"t":1570,"v":400},{"t":1590,"v":-100},
{"t":1610,"v":-50},{"t":1630,"v":0},{"t":1650,"v":50},{"t":1670,"v":50},{"t":1690,"v":0},{"t":1710,"v":-50},{"t":1730,"v":50},{"t":1750,"v":100},{"t":1770,"v":0},{"t":1790,"v":-50},
{"t":1810,"v":0},{"t":1830,"v":350},{"t":1850,"v":0},{"t":1870,"v":-300},{"t":1890,"v":700},{"t":1910,"v":100},{"t":1930,"v":-250},{"t":1950,"v":-50},{"t":1970,"v":0},{"t":1990,"v":50},
{"t":2010,"v":0},{"t":2030,"v":-200},{"t":2050,"v":200},{"t":2070,"v":300},{"t":2090,"v":50},{"t":2110,"v":100},{"t":2130,"v":100},{"t":2150,"v":300}
],
"l4": [
{"t":0,"v":190},{"t":20,"v":50},{"t":40,"v":-100},{"t":60,"v":-260},{"t":80,"v":100},{"t":100,"v":880},{"t":120,"v":300},{"t":140,"v":-450},{"t":160,"v":-100},{"t":180,"v":-200},
{"t":200,"v":0},{"t":220,"v":-150},{"t":240,"v":200},{"t":260,"v":400},{"t":280,"v":500},{"t":300,"v":730},{"t":320,"v":150},{"t":340,"v":-100},{"t":360,"v":-260},{"t":380,"v":100},
{"t":400,"v":-200},{"t":420,"v":50},{"t":440,"v":-150},{"t":460,"v":400},{"t":480,"v":1050},{"t":500,"v":200},{"t":520,"v":-200},{"t":540,"v":100},{"t":560,"v":-300},{"t":580,"v":-450},
{"t":600,"v":300},{"t":620,"v":830},{"t":640,"v":300},{"t":660,"v":0},{"t":680,"v":-200},{"t":700,"v":-100},{"t":720,"v":-350},{"t":740,"v":0},{"t":760,"v":-250},{"t":780,"v":100},
{"t":800,"v":-200},{"t":820,"v":400},{"t":840,"v":1240},{"t":860,"v":100},{"t":880,"v":-420},{"t":900,"v":-300},{"t":920,"v":200},{"t":940,"v":500},{"t":960,"v":300},{"t":980,"v":450},
{"t":1000,"v":150},{"t":1020,"v":-100},{"t":1040,"v":-150},{"t":1060,"v":0},{"t":1080,"v":-300},{"t":1100,"v":-100},{"t":1120,"v":-400},{"t":1140,"v":-200},{"t":1160,"v":0},{"t":1180,"v":200},
{"t":1200,"v":530},{"t":1220,"v":-100},{"t":1240,"v":-300},{"t":1260,"v":-450},{"t":1280,"v":-200},{"t":1300,"v":-350},{"t":1320,"v":-100},{"t":1340,"v":530},{"t":1360,"v":300},{"t":1380,"v":100},
{"t":1400,"v":400},{"t":1420,"v":250},{"t":1440,"v":0},{"t":1460,"v":300},{"t":1480,"v":100},{"t":1500,"v":0},{"t":1520,"v":-200},{"t":1540,"v":200},{"t":1560,"v":1240},{"t":1580,"v":700},
{"t":1600,"v":-450},{"t":1620,"v":-100},{"t":1640,"v":200},{"t":1660,"v":-50},{"t":1680,"v":300},{"t":1700,"v":530},{"t":1720,"v":100},{"t":1740,"v":-150},{"t":1760,"v":200},{"t":1780,"v":0},
{"t":1800,"v":-250},{"t":1820,"v":-100},{"t":1840,"v":-350},{"t":1860,"v":100},{"t":1880,"v":-200},{"t":1900,"v":300},{"t":1920,"v":700},{"t":1940,"v":1020},{"t":1960,"v":-450},{"t":1980,"v":-100},
{"t":2000,"v":300},{"t":2020,"v":100},{"t":2040,"v":400},{"t":2060,"v":0},{"t":2080,"v":650},{"t":2100,"v":200},{"t":2120,"v":400},{"t":2140,"v":150},{"t":2160,"v":60}
],
"l5": [
{"t":0,"v":290},{"t":24,"v":200},{"t":48,"v":-250},{"t":72,"v":-200},{"t":96,"v":300},{"t":120,"v":750},{"t":144,"v":-300},{"t":168,"v":-380},{"t":192,"v":-380},{"t":216,"v":-160},
{"t":240,"v":0},{"t":264,"v":300},{"t":288,"v":200},{"t":312,"v":530},{"t":336,"v":0},{"t":360,"v":-300},{"t":384,"v":-200},{"t":408,"v":100},{"t":432,"v":300},{"t":456,"v":500},
{"t":480,"v":700},{"t":504,"v":200},{"t":528,"v":-300},{"t":552,"v":-550},{"t":576,"v":-400},{"t":600,"v":-100},{"t":624,"v":100},{"t":648,"v":300},{"t":672,"v":200},{"t":696,"v":0},
{"t":720,"v":-200},{"t":744,"v":-400},{"t":768,"v":-550},{"t":792,"v":-450},{"t":816,"v":0},{"t":840,"v":700},{"t":864,"v":950},{"t":888,"v":300},{"t":912,"v":-200},{"t":936,"v":-450},
{"t":960,"v":-500},{"t":984,"v":-200},{"t":1008,"v":0},{"t":1032,"v":200},{"t":1056,"v":350},{"t":1080,"v":400},{"t":1104,"v":100},{"t":1128,"v":-300},{"t":1152,"v":-500},{"t":1176,"v":-400},
{"t":1200,"v":-100},{"t":1224,"v":200},{"t":1248,"v":400},{"t":1272,"v":300},{"t":1296,"v":100},{"t":1320,"v":-100},{"t":1344,"v":-300},{"t":1368,"v":-500},{"t":1392,"v":-300},{"t":1416,"v":0},
{"t":1440,"v":200},{"t":1464,"v":100},{"t":1488,"v":-100},{"t":1512,"v":0},{"t":1536,"v":300},{"t":1560,"v":900},{"t":1584,"v":1150},{"t":1608,"v":400},{"t":1632,"v":-300},{"t":1656,"v":-600},
{"t":1680,"v":-300},{"t":1704,"v":200},{"t":1728,"v":500},{"t":1752,"v":300},{"t":1776,"v":0},{"t":1800,"v":-200},{"t":1824,"v":-400},{"t":1848,"v":-550},{"t":1872,"v":-300},{"t":1896,"v":200},
{"t":1920,"v":800},{"t":1944,"v":1100},{"t":1968,"v":200},{"t":1992,"v":-650},{"t":2016,"v":-200},{"t":2040,"v":500},{"t":2064,"v":850},{"t":2088,"v":400},{"t":2112,"v":200},{"t":2136,"v":300},
{"t":2160,"v":150}
],
"l6": [
{"t":3,"v":435},{"t":40,"v":160},{"t":85,"v":-170},{"t":111,"v":130},{"t":156,"v":430},{"t":185,"v":-100},{"t":211,"v":-530},{"t":230,"v":-480},{"t":248,"v":-260},{"t":278,"v":270},
{"t":333,"v":530},{"t":382,"v":130},{"t":410,"v":-260},{"t":434,"v":-350},{"t":478,"v":-170},{"t":515,"v":360},{"t":552,"v":-70},{"t":590,"v":-400},{"t":627,"v":-150},{"t":679,"v":430},
{"t":701,"v":620},{"t":746,"v":130},{"t":790,"v":-530},{"t":820,"v":-530},{"t":857,"v":300},{"t":887,"v":620},{"t":931,"v":60},{"t":983,"v":250},{"t":1020,"v":100},{"t":1056,"v":380},
{"t":1065,"v":530},{"t":1124,"v":60},{"t":1176,"v":-350},{"t":1220,"v":60},{"t":1258,"v":200},{"t":1302,"v":-400},{"t":1325,"v":-630},{"t":1369,"v":-40},{"t":1406,"v":710},{"t":1429,"v":670},
{"t":1466,"v":20},{"t":1525,"v":-400},{"t":1555,"v":-530},{"t":1577,"v":0},{"t":1617,"v":530},{"t":1673,"v":-300},{"t":1718,"v":100},{"t":1777,"v":560},{"t":1822,"v":130},{"t":1874,"v":-400},
{"t":1903,"v":-450},{"t":1926,"v":20},{"t":1970,"v":530},{"t":2030,"v":-260},{"t":2052,"v":-300},{"t":2104,"v":-40},{"t":2141,"v":400},{"t":2166,"v":480}
],
"sm": [
{"t":3,"v":3850},{"t":33,"v":3560},{"t":55,"v":3500},{"t":85,"v":3470},{"t":107,"v":3290},{"t":159,"v":3290},{"t":218,"v":3470},{"t":241,"v":3600},{"t":270,"v":4010},{"t":293,"v":3870},
{"t":322,"v":3600},{"t":352,"v":3320},{"t":389,"v":3215},{"t":411,"v":3320},{"t":441,"v":3560},{"t":463,"v":3750},{"t":500,"v":3690},{"t":530,"v":3640},{"t":582,"v":3700},{"t":604,"v":4075},
{"t":634,"v":4170},{"t":656,"v":4100},{"t":679,"v":3880},{"t":708,"v":3600},{"t":735,"v":3470},{"t":768,"v":3600},{"t":797,"v":3920},{"t":827,"v":4200},{"t":857,"v":4225},{"t":887,"v":4200},
{"t":916,"v":3980},{"t":946,"v":3640},{"t":976,"v":3770},{"t":1005,"v":3640},{"t":1035,"v":3320},{"t":1065,"v":3130},{"t":1094,"v":2860},{"t":1124,"v":2720},{"t":1146,"v":2750},{"t":1168,"v":2990},
{"t":1198,"v":3120},{"t":1228,"v":3250},{"t":1258,"v":3360},{"t":1295,"v":3480},{"t":1325,"v":3870},{"t":1347,"v":4225},{"t":1369,"v":4260},{"t":1399,"v":4150},{"t":1421,"v":3880},{"t":1443,"v":3770},
{"t":1469,"v":3320},{"t":1495,"v":3370},{"t":1525,"v":3690},{"t":1555,"v":4080},{"t":1577,"v":3990},{"t":1614,"v":4190},{"t":1644,"v":4130},{"t":1673,"v":4110},{"t":1685,"v":3920},{"t":1710,"v":4260},
{"t":1740,"v":4050},{"t":1763,"v":3830},{"t":1785,"v":3560},{"t":1807,"v":3320},{"t":1832,"v":3190},{"t":1859,"v":3320},{"t":1881,"v":3480},{"t":1911,"v":3940},{"t":1941,"v":3880},{"t":2000,"v":3880},
{"t":2030,"v":3770},{"t":2045,"v":3800},{"t":2074,"v":4225},{"t":2097,"v":4260},{"t":2126,"v":4130},{"t":2156,"v":4080},{"t":2166,"v":3880}
]
},
"vconcat": [
{
  "width": 517, "height": 166,
  "layer": [
    {"data": {"name": "orig"}, "mark": {"type": "line", "color": "#0000ff", "strokeWidth": 0.8, "clip": true},
     "encoding": {
       "x": {"field": "t", "type": "quantitative", "scale": {"domain": [0, 2270], "nice": false, "zero": false}, "axis": {"values": [0, 500, 1000, 1500, 2000], "format": "d", "grid": false}},
       "y": {"field": "v", "type": "quantitative", "scale": {"domain": [-203, 5520], "nice": false, "zero": false}, "axis": {"values": [0, 1000, 2000, 3000, 4000, 5000], "format": "d", "grid": false}}
     }},
    {"data": {"name": "hline"}, "mark": {"type": "rule", "color": "#dddddd", "strokeWidth": 1}, "encoding": {"y": {"field": "v", "type": "quantitative", "axis": {"values": [0, 1000, 2000, 3000, 4000, 5000], "format": "d", "grid": false}}}},
    {"data": {"name": "vline"}, "mark": {"type": "rule", "color": "#dddddd", "strokeWidth": 1}, "encoding": {"x": {"field": "t", "type": "quantitative", "axis": {"values": [0, 500, 1000, 1500, 2000], "format": "d", "grid": false}}}}
  ]
},
{
  "width": 510, "height": 55, "data": {"name": "l0"},
  "mark": {"type": "line", "strokeWidth": 0.7, "clip": true},
  "encoding": {
    "x": {"field": "t", "type": "quantitative", "scale": {"domain": [0, 2270], "nice": false, "zero": false}, "axis": {"values": [0, 500, 1000, 1500, 2000], "format": "d"}},
    "y": {"field": "v", "type": "quantitative", "scale": {"domain": [-2750, 2600], "nice": false, "zero": false}, "axis": {"values": [-2000, -1000, 0, 1000, 2000], "format": "d"}},
    "color": {"datum": "Level 0", "scale": {"range": ["#000000"]}, "legend": {"title": null}}
  }
},
{
  "width": 510, "height": 55, "data": {"name": "l1"},
  "mark": {"type": "line", "strokeWidth": 0.7, "clip": true},
  "encoding": {
    "x": {"field": "t", "type": "quantitative", "scale": {"domain": [0, 2270], "nice": false, "zero": false}, "axis": {"values": [0, 500, 1000, 1500, 2000], "format": "d"}},
    "y": {"field": "v", "type": "quantitative", "scale": {"domain": [-2160, 2240], "nice": false, "zero": false}, "axis": {"values": [-2000, -1000, 0, 1000, 2000], "format": "d"}},
    "color": {"datum": "Level 1", "scale": {"range": ["#000000"]}, "legend": {"title": null}}
  }
},
{
  "width": 510, "height": 55, "data": {"name": "l2"},
  "mark": {"type": "line", "strokeWidth": 0.7, "clip": true},
  "encoding": {
    "x": {"field": "t", "type": "quantitative", "scale": {"domain": [0, 2270], "nice": false, "zero": false}, "axis": {"values": [0, 500, 1000, 1500, 2000], "format": "d"}},
    "y": {"field": "v", "type": "quantitative", "scale": {"domain": [-1380, 1540], "nice": false, "zero": false}, "axis": {"values": [-1000, -500, 0, 500, 1000, 1500], "format": "d"}},
    "color": {"datum": "Level 2", "scale": {"range": ["#000000"]}, "legend": {"title": null}}
  }
},
{
  "width": 510, "height": 55, "data": {"name": "l3"},
  "mark": {"type": "line", "strokeWidth": 0.8, "clip": true},
  "encoding": {
    "x": {"field": "t", "type": "quantitative", "scale": {"domain": [0, 2270], "nice": false, "zero": false}, "axis": {"values": [0, 500, 1000, 1500, 2000], "format": "d"}},
    "y": {"field": "v", "type": "quantitative", "scale": {"domain": [-1040, 1190], "nice": false, "zero": false}, "axis": {"values": [-1000, -500, 0, 500, 1000], "format": "d"}},
    "color": {"datum": "Level 3", "scale": {"range": ["#000000"]}, "legend": {"title": null}}
  }
},
{
  "width": 510, "height": 55, "data": {"name": "l4"},
  "mark": {"type": "line", "strokeWidth": 0.8, "clip": true},
  "encoding": {
    "x": {"field": "t", "type": "quantitative", "scale": {"domain": [0, 2270], "nice": false, "zero": false}, "axis": {"values": [0, 500, 1000, 1500, 2000], "format": "d"}},
    "y": {"field": "v", "type": "quantitative", "scale": {"domain": [-810, 1360], "nice": false, "zero": false}, "axis": {"values": [-500, 0, 500, 1000], "format": "d"}},
    "color": {"datum": "Level 4", "scale": {"range": ["#000000"]}, "legend": {"title": null}}
  }
},
{
  "width": 510, "height": 55, "data": {"name": "l5"},
  "mark": {"type": "line", "strokeWidth": 0.8, "clip": true},
  "encoding": {
    "x": {"field": "t", "type": "quantitative", "scale": {"domain": [0, 2270], "nice": false, "zero": false}, "axis": {"values": [0, 500, 1000, 1500, 2000], "format": "d"}},
    "y": {"field": "v", "type": "quantitative", "scale": {"domain": [-750, 1210], "nice": false, "zero": false}, "axis": {"values": [-500, 0, 500, 1000], "format": "d"}},
    "color": {"datum": "Level 5", "scale": {"range": ["#000000"]}, "legend": {"title": null}}
  }
},
{
  "width": 510, "height": 55, "data": {"name": "l6"},
  "mark": {"type": "line", "strokeWidth": 0.8, "clip": true},
  "encoding": {
    "x": {"field": "t", "type": "quantitative", "scale": {"domain": [0, 2270], "nice": false, "zero": false}, "axis": {"values": [0, 500, 1000, 1500, 2000], "format": "d"}},
    "y": {"field": "v", "type": "quantitative", "scale": {"domain": [-720, 805], "nice": false, "zero": false}, "axis": {"values": [-500, 0, 500], "format": "d"}},
    "color": {"datum": "Level 6", "scale": {"range": ["#000000"]}, "legend": {"title": null, "orient": "none", "legendX": -20, "legendY": 4}}
  }
},
{
  "width": 510, "height": 50, "data": {"name": "sm"},
  "mark": {"type": "line", "strokeWidth": 0.8, "clip": true},
  "encoding": {
    "x": {"field": "t", "type": "quantitative", "scale": {"domain": [0, 2270], "nice": false, "zero": false}, "axis": {"values": [0, 500, 1000, 1500, 2000], "format": "d"}},
    "y": {"field": "v", "type": "quantitative", "scale": {"domain": [2700, 4313], "nice": false, "zero": false}, "axis": {"values": [3000, 3500, 4000], "format": "d"}},
    "color": {"datum": "Smooth", "scale": {"range": ["#000000"]}, "legend": {"title": null, "orient": "none", "legendX": -20, "legendY": 4}}
  }
}
]
}
